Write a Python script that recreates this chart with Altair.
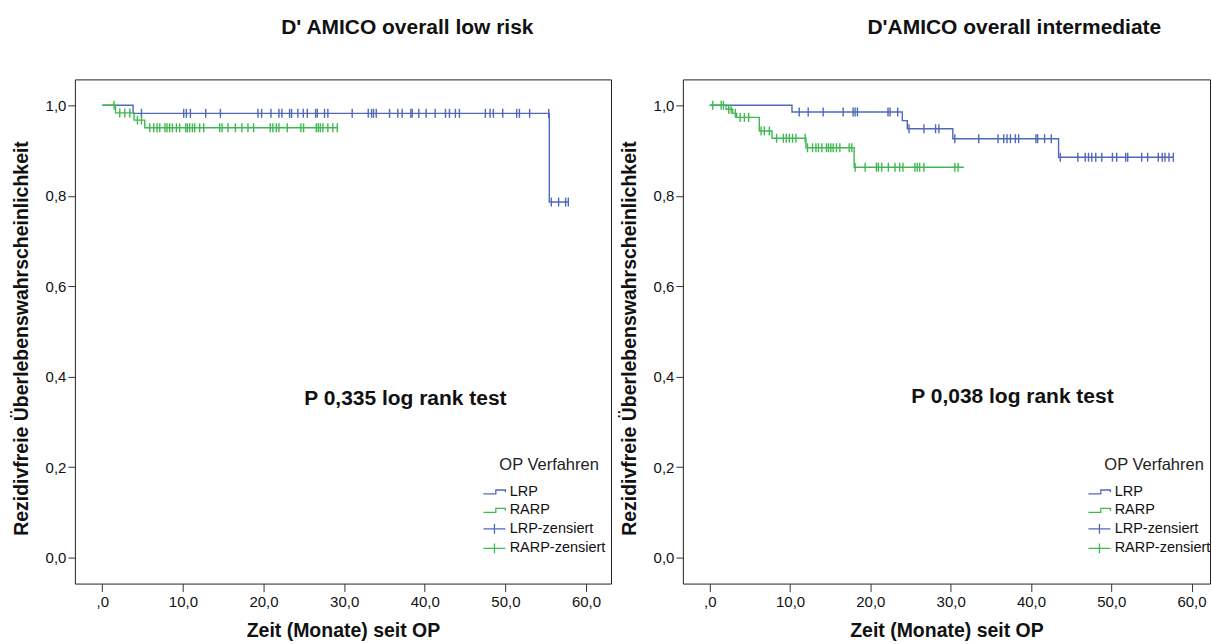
import altair as alt
import pandas as pd

# ---------------- data ----------------
LEGEND_NAMES = ["LRP", "RARP", "LRP-zensiert", "RARP-zensiert"]
LEGEND_COLORS = ["#4f68bc", "#40b852", "#4f68bc", "#40b852"]
CURVE_NAMES = ["LRP", "LRP-zensiert", "RARP", "RARP-zensiert"]
CURVE_COLORS = ["#4f68bc", "#4f68bc", "#40b852", "#40b852"]
STEP_PATH = "M-2.67,0.33H-0.6V-0.33H1V0.05"
CROSS_PATH = "M-2.67,0H1M-0.83,-0.8V0.8"
LEGEND_SHAPES = [STEP_PATH, STEP_PATH, CROSS_PATH, CROSS_PATH]
TICK_PATH = "M0,-1V1"

X_TICKS = [0, 10, 20, 30, 40, 50, 60]
Y_TICKS = [0.0, 0.2, 0.4, 0.6, 0.8, 1.0]

# D' AMICO overall low risk
LOW_LRP_TIME = [0, 3.82, 55.45, 57.9]
LOW_LRP_SURV = [1.0, 0.982, 0.786, 0.786]
LOW_LRP_CENS = [4.86, 10.10, 10.43, 10.93, 12.83, 14.65, 19.31, 19.76, 20.92, 21.91,
                22.28, 23.23, 23.48, 24.26, 24.93, 25.43, 26.46, 26.67, 27.57, 27.98,
                31.00, 32.99, 33.40, 33.64, 33.98, 35.63, 36.65, 37.20, 38.27, 38.44,
                39.26, 40.17, 41.29, 42.57, 43.06, 43.80, 44.30, 47.52, 48.10, 48.51,
                49.67, 51.40, 51.74, 53.01, 55.37, 55.70, 56.60, 57.47, 57.81]
LOW_RARP_TIME = [0, 1.64, 3.94, 5.27, 29.2]
LOW_RARP_SURV = [1.0, 0.983, 0.967, 0.950, 0.950]
LOW_RARP_CENS = [1.46, 2.17, 2.79, 3.41, 4.36, 4.86, 5.89, 6.38, 6.79, 7.13, 7.78, 8.03,
                 8.36, 8.70, 9.19, 9.60, 10.35, 10.56, 10.84, 11.18, 11.46, 12.08, 12.58,
                 14.56, 14.85, 15.59, 16.51, 17.32, 18.07, 18.77, 20.84, 21.16, 21.59,
                 21.91, 22.95, 24.63, 24.97, 26.54, 26.79, 27.04, 27.36, 27.98, 28.60, 29.15]
LOW_P_TEXT = ["P 0,335 log rank test"]
LOW_P_X = [37.6]
LOW_P_Y = [0.351]

# D'AMICO overall intermediate
INT_LRP_TIME = [0, 10.24, 23.98, 24.60, 30.27, 43.44, 57.73]
INT_LRP_SURV = [1.0, 0.985, 0.966, 0.948, 0.926, 0.885, 0.885]
INT_LRP_CENS = [11.14, 12.26, 14.12, 16.61, 17.85, 18.10, 18.39, 22.20, 22.45, 23.40,
                24.81, 26.67, 28.12, 28.53, 30.52, 33.50, 35.90, 36.61, 37.02, 37.44,
                38.06, 38.47, 40.62, 40.83, 41.70, 42.53, 43.65, 45.84, 46.76, 47.17,
                47.58, 48.07, 48.82, 50.15, 50.68, 51.80, 52.05, 53.79, 54.53, 55.86,
                56.35, 56.69, 57.19, 57.73]
INT_RARP_TIME = [0, 2.04, 2.86, 3.35, 6.17, 7.75, 11.98, 17.98, 31.64]
INT_RARP_SURV = [1.0, 0.991, 0.982, 0.973, 0.943, 0.927, 0.906, 0.863, 0.863]
INT_RARP_CENS = [0.37, 1.42, 1.70, 2.36, 2.66, 3.19, 3.78, 4.31, 4.84, 6.39, 6.80, 7.42,
                 8.32, 9.16, 9.53, 9.90, 10.31, 10.73, 11.89, 12.17, 12.80, 13.22, 13.54,
                 13.96, 14.53, 14.78, 15.08, 15.37, 15.78, 16.20, 17.37, 17.69, 18.10,
                 19.35, 20.75, 20.99, 21.42, 22.24, 23.07, 23.65, 24.06, 25.55, 25.84,
                 26.14, 26.67, 30.52, 30.93]
INT_P_TEXT = ["P 0,038 log rank test"]
INT_P_X = [37.7]
INT_P_Y = [0.355]

FONT = "Liberation Sans"
TXT = "#111111"


def step_table(times, survs, grp):
    return pd.DataFrame({"time": times, "surv": survs, "grp": grp})


def cens_table(cens, times, survs, grp):
    rows = []
    for t in cens:
        s = survs[0]
        for ti, si in zip(times, survs):
            if ti <= t:
                s = si
        rows.append({"time": t, "surv": s, "grp": grp})
    return pd.DataFrame(rows)


def panel(title, dx, lines_df, cens_df, ptxt_df, xdom, width, legend_x):
    color_scale = alt.Scale(domain=CURVE_NAMES, range=CURVE_COLORS)
    stroke_scale = alt.Scale(domain=LEGEND_NAMES, range=LEGEND_COLORS)
    shape_scale = alt.Scale(domain=LEGEND_NAMES, range=LEGEND_SHAPES)
    xaxis = alt.Axis(
        values=X_TICKS, grid=False, domain=False, tickSize=8, tickColor="#333333",
        labelExpr="datum.value == 0 ? ',0' : replace(format(datum.value, '.1f'), '.', ',')",
        labelFont=FONT, labelFontSize=15, labelColor=TXT, labelPadding=3,
        titleFont=FONT, titleFontSize=19.5, titleFontWeight="bold", titleColor=TXT,
        titlePadding=12,
    )
    yaxis = alt.Axis(
        values=Y_TICKS, grid=False, domain=False, tickSize=7, tickColor="#333333",
        labelExpr="replace(format(datum.value, '.1f'), '.', ',')",
        labelFont=FONT, labelFontSize=15, labelColor=TXT, labelPadding=2,
        titleFont=FONT, titleFontSize=19.5, titleFontWeight="bold", titleColor=TXT,
        titlePadding=14, titleY=259,
    )
    xenc = alt.X("time:Q", scale=alt.Scale(domain=xdom, nice=False, zero=False),
                 axis=xaxis, title="Zeit (Monate) seit OP")
    yenc = alt.Y("surv:Q", scale=alt.Scale(domain=[-0.057, 1.057], nice=False, zero=False),
                 axis=yaxis, title="Rezidivfreie Überlebenswahrscheinlichkeit")

    lines = alt.Chart(lines_df).mark_line(interpolate="step-after", strokeWidth=1.4).encode(
        x=xenc, y=yenc,
        color=alt.Color("grp:N", scale=color_scale, legend=None),
    )
    cens = alt.Chart(cens_df).mark_point(shape=TICK_PATH, size=81, filled=False,
                                         strokeWidth=1.4, opacity=1).encode(
        x=xenc, y=yenc,
        color=alt.Color("grp:N", scale=color_scale, legend=None),
    )
    leg_kwargs = dict(
        title="OP Verfahren", orient="none", legendX=legend_x, legendY=378,
        titleFont=FONT, titleFontSize=16.5, titleFontWeight="normal", titleColor="#222222",
        titleAnchor="middle", titlePadding=11.5,
        labelFont=FONT, labelFontSize=14.5, labelColor=TXT, labelOffset=3,
        symbolSize=144, symbolStrokeWidth=1.3, symbolOpacity=1, rowPadding=3.5,
        padding=0,
    )
    legend_df = pd.DataFrame({"grp": LEGEND_NAMES})
    leg = alt.Chart(legend_df).mark_point(opacity=0, filled=False).encode(
        stroke=alt.Stroke("grp:N", scale=stroke_scale, legend=alt.Legend(**leg_kwargs)),
        shape=alt.Shape("grp:N", scale=shape_scale, legend=alt.Legend(**leg_kwargs)),
    )
    ptxt = alt.Chart(ptxt_df).mark_text(font=FONT, fontSize=21, fontWeight="bold",
                                        color=TXT).encode(
        x=alt.X("x:Q"), y=alt.Y("y:Q"), text="label:N"
    )
    return alt.layer(lines, cens, leg, ptxt).properties(
        width=width, height=505,
        title=alt.TitleParams(text=title, anchor="middle", frame="group", dx=dx, offset=41.5,
                              font=FONT, fontSize=21, fontWeight="bold", color=TXT),
    )


low_lines = pd.concat([step_table(LOW_LRP_TIME, LOW_LRP_SURV, "LRP"),
                       step_table(LOW_RARP_TIME, LOW_RARP_SURV, "RARP")])
low_cens = pd.concat([cens_table(LOW_LRP_CENS, LOW_LRP_TIME, LOW_LRP_SURV, "LRP-zensiert"),
                      cens_table(LOW_RARP_CENS, LOW_RARP_TIME, LOW_RARP_SURV, "RARP-zensiert")])
low_p = pd.DataFrame({"x": LOW_P_X, "y": LOW_P_Y, "label": LOW_P_TEXT})

int_lines = pd.concat([step_table(INT_LRP_TIME, INT_LRP_SURV, "LRP"),
                       step_table(INT_RARP_TIME, INT_RARP_SURV, "RARP")])
int_cens = pd.concat([cens_table(INT_LRP_CENS, INT_LRP_TIME, INT_LRP_SURV, "LRP-zensiert"),
                      cens_table(INT_RARP_CENS, INT_RARP_TIME, INT_RARP_SURV, "RARP-zensiert")])
int_p = pd.DataFrame({"x": INT_P_X, "y": INT_P_Y, "label": INT_P_TEXT})

left = panel("D' AMICO overall low risk", 64.5, low_lines, low_cens, low_p,
             [-3.4, 63.1], 537, 418)
right = panel("D'AMICO overall intermediate", 68, int_lines, int_cens, int_p,
              [-3.35, 62.3], 528, 415)

chart = alt.hconcat(left, right, spacing=6).resolve_scale(
    color="independent", stroke="independent", shape="independent",
    x="independent", y="independent"
).resolve_legend(color="independent", stroke="independent", shape="independent").properties(
    padding={"left": 10, "top": 16, "right": 0, "bottom": 0},
    background="white",
).configure_view(fill="#f0f0f0", stroke="#222222", strokeWidth=1)

chart.save("out.html", embed_options={"renderer": "svg", "actions": False})
